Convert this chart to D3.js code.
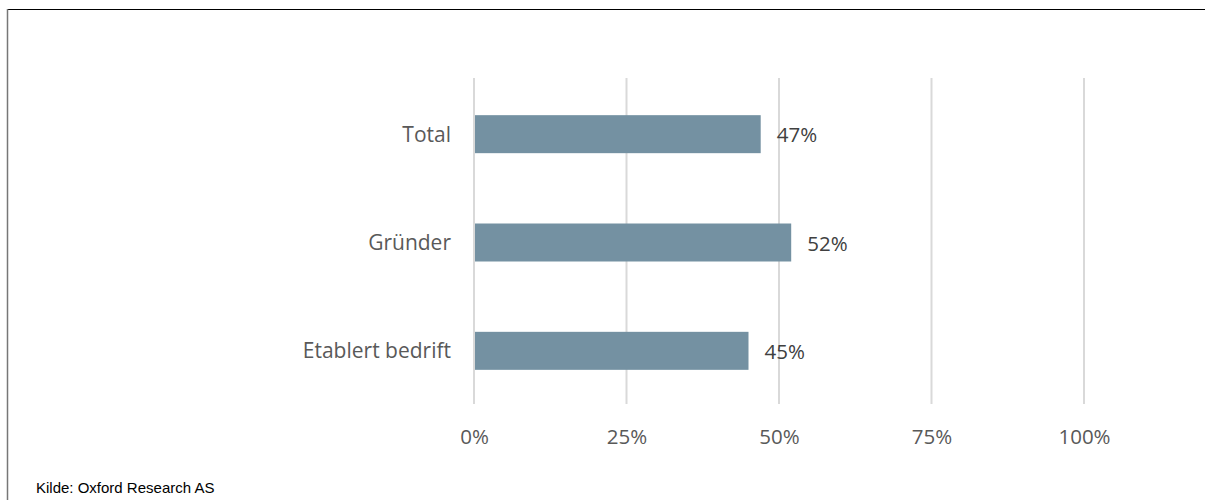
<!DOCTYPE html>
<html>
<head>
<meta charset="utf-8">
<script src="https://cdn.jsdelivr.net/npm/d3@7"></script>
<style>
  body { margin: 0; background: #fff; }
  svg { display: block; }
</style>
</head>
<body>
<div id="chart"></div>
<script>
// data
const categories = ["Total", "Gründer", "Etablert bedrift"];
const values = [0.47, 0.52, 0.45];
const ticks = [0, 0.25, 0.5, 0.75, 1];
const source = "Kilde: Oxford Research AS";

const width = 1205, height = 500;

const svg = d3.select("#chart").append("svg")
  .attr("width", width)
  .attr("height", height);

// frame (top + left only, like the cropped original)
svg.append("line")
  .attr("x1", 7).attr("x2", width).attr("y1", 9.5).attr("y2", 9.5)
  .attr("stroke", "#000").attr("stroke-width", 1.2);
svg.append("line")
  .attr("x1", 7.5).attr("x2", 7.5).attr("y1", 9).attr("y2", height)
  .attr("stroke", "#777").attr("stroke-width", 1.5);

var x = d3.scaleLinear().domain([0, 1]).range([474, 1084]);
var y = d3.scaleBand().domain(categories).range([80, 405]);
var barH = 38;

// grid
svg.append("g")
  .selectAll("line")
  .data(ticks)
  .enter()
  .append("line")
  .attr("x1", (d) => x(d)).attr("x2", (d) => x(d))
  .attr("y1", 78).attr("y2", 404)
  .attr("stroke", "#d9d9d9").attr("stroke-width", 2);

// bars
svg.append("g")
  .selectAll("rect")
  .data(values)
  .enter()
  .append("rect")
  .attr("x", x(0) + 1)
  .attr("y", (d, i) => y(categories[i]) + y.bandwidth() / 2 - barH / 2)
  .attr("width", (d) => x(d) - x(0) - 1)
  .attr("height", barH)
  .attr("fill", "#7491a2");

const font = "'Open Sans', 'Noto Sans', sans-serif";

// value labels
svg.append("g")
  .selectAll("text")
  .data(values)
  .enter()
  .append("text")
  .attr("x", (d) => x(d) + 16)
  .attr("y", (d, i) => y(categories[i]) + y.bandwidth() / 2 + 1)
  .attr("dy", "0.35em")
  .attr("font-family", font)
  .attr("font-size", 20.5)
  .attr("fill", "#404040")
  .text((d) => Math.round(d * 100) + "%");

// category labels
svg.append("g")
  .selectAll("text")
  .data(categories)
  .enter()
  .append("text")
  .attr("x", 451)
  .attr("y", (d) => y(d) + y.bandwidth() / 2)
  .attr("dy", "0.35em")
  .attr("text-anchor", "end")
  .attr("font-family", font)
  .attr("font-size", 21)
  .attr("fill", "#595959")
  .text((d) => d);

// x axis labels
var axis = svg.append("g")
  .attr("transform", "translate(0,437)")
  .call(d3.axisBottom(x).tickValues(ticks).tickSize(0).tickPadding(0)
    .tickFormat(d3.format(".0%")));
axis.select(".domain").remove();
axis.selectAll("text")
  .attr("font-family", font)
  .attr("font-size", 20.5)
  .attr("fill", "#595959")
  .attr("dy", "0.35em");

// source
svg.append("text")
  .attr("x", 36)
  .attr("y", 493)
  .attr("font-family", "'Liberation Sans', Arial, sans-serif")
  .attr("font-size", 15)
  .attr("fill", "#000")
  .text(source);
</script>
</body>
</html>
